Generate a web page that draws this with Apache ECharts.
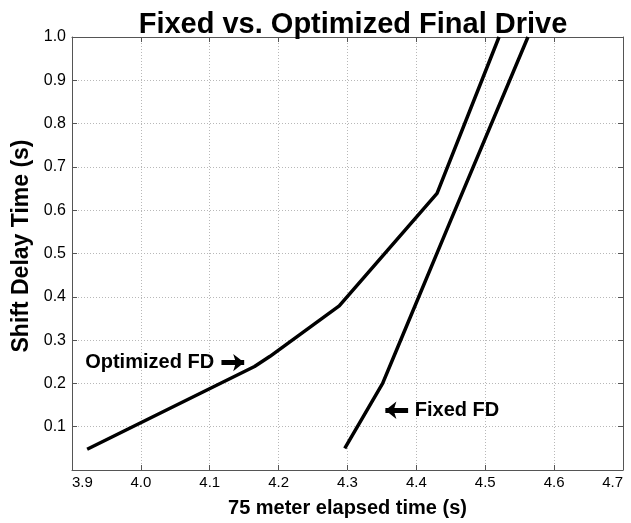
<!DOCTYPE html>
<html>
<head>
<meta charset="utf-8">
<script src="https://cdn.jsdelivr.net/npm/echarts@6/dist/echarts.min.js"></script>
<style>
html,body{margin:0;padding:0;background:#fff;}
#chart{width:631px;height:523px;}
</style>
</head>
<body>
<div id="chart"></div>
<script>
// Data
var titleText = 'Fixed vs. Optimized Final Drive';
var xName = '75 meter elapsed time (s)';
var yName = 'Shift Delay Time (s)';
var optimizedFD = [[3.922,0.048],[4.165,0.239],[4.187,0.262],[4.288,0.379],[4.430,0.639],[4.520,1.0]];
var fixedFD = [[4.296,0.050],[4.351,0.200],[4.372,0.280],[4.450,0.577],[4.562,1.0]];
var annotations = [
  {text:'Optimized FD', x:4.107, y:0.248, side:'left', arrowFrom:[4.117,0.248], arrowTo:[4.150,0.248]},
  {text:'Fixed FD', x:4.397, y:0.138, side:'right', arrowFrom:[4.388,0.138], arrowTo:[4.355,0.138]}
];
var xMin = 3.9, xMax = 4.7, xStep = 0.1;
var yMin = 0, yMax = 1.0, yStep = 0.1;

var FONT = '"Liberation Sans", Arial, sans-serif';
var chart = echarts.init(document.getElementById('chart'));

var gridStyle = {show:true, lineStyle:{color:'#b8b8b8', type:[1,2], width:1}};
var tickIn = {show:true, inside:true, length:5, lineStyle:{color:'#555'}};
var axLine = {show:true, onZero:false, lineStyle:{color:'#555', width:1}};

var option = {
  animation:false,
  backgroundColor:'#fff',
  title:{
    text:titleText, left:348, textAlign:'center', top:5,
    textStyle:{fontFamily:FONT, fontWeight:'bold', fontSize:29, color:'#000'}
  },
  grid:{left:72, right:8, top:37, bottom:52, show:false},
  xAxis:[{
    type:'value', min:xMin, max:xMax, interval:xStep,
    name:xName, nameLocation:'middle', nameGap:28,
    nameTextStyle:{fontFamily:FONT, fontWeight:'bold', fontSize:20, color:'#000'},
    axisLine:axLine, axisTick:tickIn, splitLine:gridStyle,
    axisLabel:{fontFamily:FONT, fontSize:15, color:'#000', margin:5,
      alignMinLabel:'left', alignMaxLabel:'right',
      formatter:function(v){return v.toFixed(1);}}
  },{
    type:'value', min:xMin, max:xMax, interval:xStep, position:'top',
    axisLine:axLine, axisTick:tickIn, splitLine:{show:false}, axisLabel:{show:false}
  }],
  yAxis:[{
    type:'value', min:yMin, max:yMax, interval:yStep,
    name:yName, nameLocation:'middle', nameGap:38, nameRotate:90,
    nameTextStyle:{fontFamily:FONT, fontWeight:'bold', fontSize:23, color:'#000', padding:[0,0,0,15]},
    axisLine:axLine, axisTick:tickIn, splitLine:gridStyle,
    axisLabel:{fontFamily:FONT, fontSize:16, color:'#000', margin:6,
      formatter:function(v){return v===0?'':v.toFixed(1);}}
  },{
    type:'value', min:yMin, max:yMax, interval:yStep, position:'right',
    axisLine:axLine, axisTick:tickIn, splitLine:{show:false}, axisLabel:{show:false}
  }],
  series:[{
    name:'Optimized FD', type:'line', data:optimizedFD, showSymbol:false, symbol:'none',
    lineStyle:{color:'#000', width:3.5}, clip:true
  },{
    name:'Fixed FD', type:'line', data:fixedFD, showSymbol:false, symbol:'none',
    lineStyle:{color:'#000', width:3.5}, clip:true
  },{
    name:'labels', type:'scatter', symbolSize:1, silent:true,
    itemStyle:{color:'#000', opacity:0},
    data:annotations.map(function(a){
      return {value:[a.x,a.y], label:{show:true, position:a.side, distance:0, formatter:a.text,
        fontFamily:FONT, fontWeight:'bold', fontSize:20, color:'#000', opacity:1, textBorderWidth:0}};
    }),
    markLine:{
      silent:true, symbol:['none','arrow'], symbolSize:[13,11], label:{show:false},
      lineStyle:{color:'#000', width:5, type:'solid', opacity:1},
      data:annotations.map(function(a){
        return [{coord:a.arrowFrom},{coord:a.arrowTo}];
      })
    }
  }]
};
chart.setOption(option);
</script>
</body>
</html>
